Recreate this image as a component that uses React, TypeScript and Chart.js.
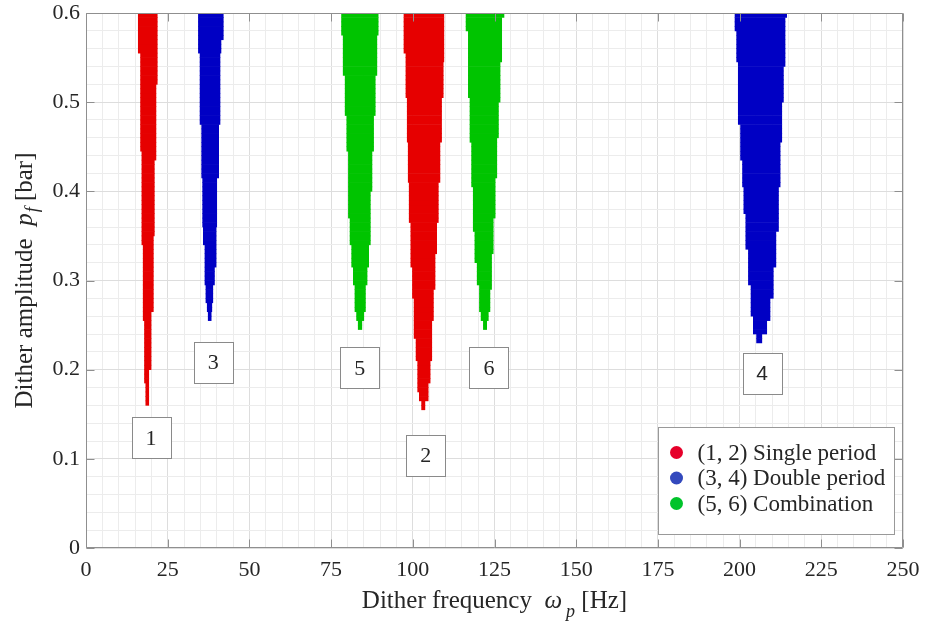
import React, { useEffect, useRef } from 'react';
import { Chart, registerables } from 'chart.js';

Chart.register(...registerables);

// ---------- axes ----------
const xMajorTicks = [0, 25, 50, 75, 100, 125, 150, 175, 200, 225, 250];
const yMajorTicks = [0, 0.1, 0.2, 0.3, 0.4, 0.5, 0.6];
const xMinorStep = 5;
const yMinorStep = 0.02;

// amplitude resolution of the region map (rows of the stability map)
const ROW_STEP = 0.005;

// ---------- regions: step edges [frequency Hz, amplitude bar] ----------
// each [x, y]: the edge sits at x from amplitude y downwards (until the next entry)
const wedge1Left = [[16.0, 0.6], [16.7, 0.557], [17.1, 0.445], [17.5, 0.342], [17.9, 0.253], [18.3, 0.185]];
const wedge1Right = [[21.8, 0.6], [21.4, 0.52], [20.9, 0.434], [20.6, 0.348], [19.9, 0.267], [19.2, 0.2]];
const wedge1Tip = 0.163;

const wedge2Left = [[97.3, 0.6], [97.9, 0.555], [98.3, 0.505], [98.6, 0.455], [98.9, 0.411], [99.4, 0.366], [99.9, 0.316], [100.4, 0.279], [101.0, 0.237], [101.5, 0.211], [102.0, 0.177], [102.7, 0.163]];
const wedge2Right = [[109.5, 0.6], [109.3, 0.544], [108.8, 0.503], [108.3, 0.455], [107.8, 0.41], [107.3, 0.366], [106.8, 0.331], [106.3, 0.29], [105.8, 0.256], [105.3, 0.211], [104.7, 0.185], [103.7, 0.163]];
const wedge2Tip = 0.155;

const wedge3Left = [[34.4, 0.6], [34.9, 0.555], [35.4, 0.475], [35.7, 0.415], [35.9, 0.36], [36.4, 0.342], [36.7, 0.293], [37.1, 0.275], [37.4, 0.265]];
const wedge3Right = [[42.0, 0.6], [41.3, 0.57], [41.0, 0.555], [40.6, 0.475], [40.0, 0.415], [39.8, 0.361], [39.3, 0.316], [38.8, 0.293], [38.5, 0.275], [38.3, 0.265]];
const wedge3Tip = 0.258;

const wedge4Left = [[198.6, 0.6], [199.1, 0.578], [199.6, 0.544], [200.3, 0.477], [200.9, 0.436], [201.3, 0.406], [201.9, 0.376], [202.7, 0.335], [203.5, 0.293], [204.2, 0.26], [205.2, 0.241]];
const wedge4Right = [[214.4, 0.6], [213.9, 0.593], [213.4, 0.54], [212.9, 0.5], [212.4, 0.455], [211.9, 0.406], [211.1, 0.357], [210.3, 0.316], [209.3, 0.279], [208.3, 0.253], [206.8, 0.241]];
const wedge4Tip = 0.231;

const wedge5Left = [[78.2, 0.6], [78.7, 0.577], [79.3, 0.529], [79.8, 0.487], [80.3, 0.447], [80.8, 0.372], [81.3, 0.342], [81.8, 0.316], [82.3, 0.293], [82.8, 0.267], [83.3, 0.255]];
const wedge5Right = [[89.4, 0.6], [89.0, 0.577], [88.5, 0.529], [88.0, 0.487], [87.5, 0.447], [87.0, 0.4], [86.5, 0.342], [86.0, 0.316], [85.5, 0.293], [85.0, 0.267], [84.4, 0.255]];
const wedge5Tip = 0.245;

const wedge6Left = [[116.3, 0.6], [117.0, 0.578], [117.5, 0.507], [118.0, 0.456], [118.5, 0.406], [119.0, 0.357], [119.7, 0.32], [120.4, 0.293], [120.9, 0.267], [121.6, 0.254]];
const wedge6Right = [[127.9, 0.6], [127.2, 0.593], [126.7, 0.544], [126.2, 0.5], [125.7, 0.458], [125.2, 0.413], [124.6, 0.372], [124.1, 0.331], [123.6, 0.29], [123.1, 0.263], [122.6, 0.254]];
const wedge6Tip = 0.247;

// ---------- region number labels ----------
const regionLabels = ['1', '3', '5', '2', '6', '4'];
const regionLabelX = [19.9, 38.9, 83.8, 104.0, 123.3, 206.9];
const regionLabelY = [0.1235, 0.208, 0.202, 0.104, 0.202, 0.196];

// ---------- legend ----------
const legendLabels = ['(1, 2) Single period', '(3, 4) Double period', '(5, 6) Combination'];

const RED = '#e60000';
const BLUE = '#0000c4';
const GREEN = '#00c400';
const legendDotColors = ['#e6002a', '#3349bd', '#00c32a'];

const AXIS_COLOR = '#8f8f8f';
const TEXT_COLOR = '#262626';
const SERIF = "'Liberation Serif', 'DejaVu Serif', serif";
const SANS = "'Liberation Sans', Arial, sans-serif";

type Pt = number[];

function edgeAt(edge: Pt[], y: number) {
  let x = edge[0][0];
  for (const [ex, ey] of edge) if (ey >= y) x = ex;
  return x;
}

// rows of the region (floating horizontal bars) built from its step edges
function buildRows(left: Pt[], right: Pt[], tipY: number) {
  const rows: { x: number[]; y: number }[] = [];
  for (let k = 0; ; k++) {
    const c = Math.round((ROW_STEP / 2 + k * ROW_STEP) * 10000) / 10000;
    if (c > 0.6) break;
    if (c + ROW_STEP / 2 <= tipY) continue;
    rows.push({ y: c, x: [edgeAt(left, c), edgeAt(right, c)] });
  }
  return rows;
}

const isMajor = (v: number, list: number[]) => list.some((t) => Math.abs(t - v) < 1e-6);

type Piece = { text: string; font: string; dy?: number; dx?: number };

function drawRich(ctx: CanvasRenderingContext2D, pieces: Piece[], centerX: number, baseY: number) {
  let total = 0;
  const widths = pieces.map((p) => {
    ctx.font = p.font;
    const w = ctx.measureText(p.text).width + (p.dx || 0);
    total += w;
    return w;
  });
  let x = centerX - total / 2;
  ctx.textAlign = 'left';
  ctx.textBaseline = 'alphabetic';
  pieces.forEach((p, i) => {
    ctx.font = p.font;
    ctx.fillText(p.text, x + (p.dx || 0), baseY + (p.dy || 0));
    x += widths[i];
  });
}

const decorPlugin = {
  id: 'decor',
  afterDatasetsDraw(chart: any) {
    const { ctx, chartArea: a } = chart;
    const xs = chart.scales.x;
    const ys = chart.scales.y;
    const L = Math.round(a.left) + 0.5;
    const R = Math.round(a.right) - 0.5;
    const T = Math.round(a.top) + 0.5;
    const B = Math.round(a.bottom) - 0.5;
    ctx.save();
    ctx.strokeStyle = AXIS_COLOR;
    ctx.lineWidth = 1;
    ctx.beginPath();
    ctx.rect(L, T, R - L, B - T);
    ctx.stroke();
    const tl = 8;
    ctx.beginPath();
    xMajorTicks.forEach((v) => {
      const px = Math.round(xs.getPixelForValue(v)) + 0.5;
      ctx.moveTo(px, B);
      ctx.lineTo(px, B - tl);
      ctx.moveTo(px, T);
      ctx.lineTo(px, T + tl);
    });
    yMajorTicks.forEach((v) => {
      const py = Math.round(ys.getPixelForValue(v)) + 0.5;
      ctx.moveTo(L, py);
      ctx.lineTo(L + tl, py);
      ctx.moveTo(R, py);
      ctx.lineTo(R - tl, py);
    });
    ctx.stroke();
    ctx.restore();
  },
  afterDraw(chart: any) {
    const { ctx, chartArea: a } = chart;
    const xs = chart.scales.x;
    const ys = chart.scales.y;
    ctx.save();

    // region labels
    regionLabels.forEach((lab, i) => {
      const cx = xs.getPixelForValue(regionLabelX[i]);
      const cy = ys.getPixelForValue(regionLabelY[i]);
      const w = 39;
      const h = 41;
      const x0 = Math.round(cx - w / 2) + 0.5;
      const y0 = Math.round(cy - h / 2) + 0.5;
      ctx.fillStyle = '#ffffff';
      ctx.fillRect(x0, y0, w, h);
      ctx.strokeStyle = '#8a8a8a';
      ctx.lineWidth = 1;
      ctx.strokeRect(x0, y0, w, h);
      ctx.fillStyle = TEXT_COLOR;
      ctx.font = lab === '4' ? `21px ${SANS}` : `22px ${SERIF}`;
      ctx.textAlign = 'center';
      ctx.textBaseline = 'middle';
      ctx.fillText(lab, cx, cy + 1);
    });

    // legend
    const lw = 236;
    const lh = 107;
    const lx = Math.round(a.right) - 9 - lw + 0.5;
    const ly = Math.round(a.bottom) - 14 - lh + 0.5;
    ctx.fillStyle = '#ffffff';
    ctx.fillRect(lx, ly, lw, lh);
    ctx.strokeStyle = '#999999';
    ctx.strokeRect(lx, ly, lw, lh);
    legendLabels.forEach((lab, i) => {
      const cy = ly + 25 + i * 25.5;
      ctx.beginPath();
      ctx.fillStyle = legendDotColors[i];
      ctx.arc(lx + 18, cy, 6.5, 0, Math.PI * 2);
      ctx.fill();
      ctx.fillStyle = TEXT_COLOR;
      ctx.font = `23px ${SERIF}`;
      ctx.textAlign = 'left';
      ctx.textBaseline = 'middle';
      ctx.fillText(lab, lx + 39, cy + 1);
    });

    // axis titles
    ctx.fillStyle = TEXT_COLOR;
    drawRich(
      ctx,
      [
        { text: 'Dither frequency  ', font: `25px ${SERIF}` },
        { text: 'ω', font: `italic 25px ${SERIF}` },
        { text: 'p', font: `italic 18px ${SERIF}`, dy: 9, dx: 4 },
        { text: ' [Hz]', font: `25px ${SERIF}` },
      ],
      (a.left + a.right) / 2,
      608
    );
    ctx.save();
    ctx.translate(32, (a.top + a.bottom) / 2);
    ctx.rotate(-Math.PI / 2);
    drawRich(
      ctx,
      [
        { text: 'Dither amplitude  ', font: `25px ${SERIF}` },
        { text: 'p', font: `italic 25px ${SERIF}` },
        { text: 'f', font: `italic 18px ${SERIF}`, dy: 6, dx: 1 },
        { text: ' [bar]', font: `25px ${SERIF}` },
      ],
      0,
      0
    );
    ctx.restore();
    ctx.restore();
  },
};

export default function App() {
  const canvasRef = useRef<HTMLCanvasElement | null>(null);

  useEffect(() => {
    document.body.style.margin = '0';
    const canvas = canvasRef.current;
    if (!canvas) return;

    const wedges = [
      { label: 'Region 1', color: RED, data: buildRows(wedge1Left, wedge1Right, wedge1Tip) },
      { label: 'Region 2', color: RED, data: buildRows(wedge2Left, wedge2Right, wedge2Tip) },
      { label: 'Region 3', color: BLUE, data: buildRows(wedge3Left, wedge3Right, wedge3Tip) },
      { label: 'Region 4', color: BLUE, data: buildRows(wedge4Left, wedge4Right, wedge4Tip) },
      { label: 'Region 5', color: GREEN, data: buildRows(wedge5Left, wedge5Right, wedge5Tip) },
      { label: 'Region 6', color: GREEN, data: buildRows(wedge6Left, wedge6Right, wedge6Tip) },
    ];

    const chart = new Chart(canvas, {
      type: 'bar',
      data: {
        datasets: wedges.map((w) => ({
          label: w.label,
          data: w.data,
          backgroundColor: w.color,
          borderWidth: 0,
          grouped: false,
          barPercentage: 1,
          categoryPercentage: 1,
        })),
      },
      options: {
        indexAxis: 'y',
        responsive: false,
        animation: false,
        events: [],
        layout: { padding: { left: 0, right: 22, top: 13, bottom: 0 } },
        plugins: {
          legend: { display: false },
          tooltip: { enabled: false },
        },
        scales: {
          x: {
            type: 'linear',
            min: 0,
            max: 250,
            offset: false,
            border: { display: false },
            grid: {
              drawTicks: false,
              offset: false,
              color: (c: any) => (c.tick && isMajor(c.tick.value, xMajorTicks) ? '#dddddd' : '#ececec'),
            },
            ticks: {
              stepSize: xMinorStep,
              autoSkip: false,
              maxRotation: 0,
              padding: 9,
              color: TEXT_COLOR,
              font: { family: SERIF, size: 22 },
              callback: (v: any) => (isMajor(Number(v), xMajorTicks) ? String(Number(v)) : ''),
            },
            afterFit: (s: any) => {
              s.height = 79;
              s.paddingLeft = 0;
              s.paddingRight = 0;
            },
          },
          y: {
            type: 'linear',
            min: 0,
            max: 0.6,
            offset: false,
            border: { display: false },
            grid: {
              drawTicks: false,
              offset: false,
              color: (c: any) => (c.tick && isMajor(c.tick.value, yMajorTicks) ? '#dddddd' : '#ececec'),
            },
            ticks: {
              stepSize: yMinorStep,
              autoSkip: false,
              padding: 6,
              color: TEXT_COLOR,
              font: { family: SERIF, size: 22 },
              callback: (v: any) => {
                const n = Number(v);
                if (!isMajor(n, yMajorTicks)) return '';
                return n === 0 ? '0' : n.toFixed(1);
              },
            },
            afterFit: (s: any) => {
              s.width = 86;
              s.paddingTop = 0;
              s.paddingBottom = 0;
            },
          },
        },
      },
      plugins: [decorPlugin],
    } as any);

    return () => chart.destroy();
  }, []);

  return (
    <div style={{ width: 925, height: 627 }}>
      <canvas ref={canvasRef} width={925} height={627} style={{ display: 'block' }} />
    </div>
  );
}
